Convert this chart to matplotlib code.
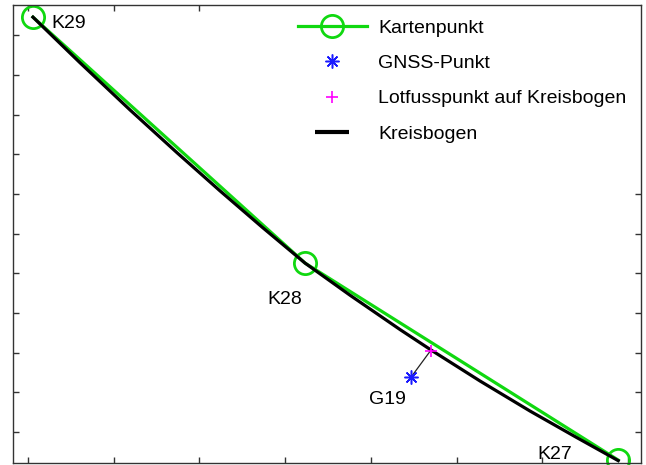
import numpy as np
import matplotlib
matplotlib.use("Agg")
import matplotlib.pyplot as plt
from matplotlib.lines import Line2D

plt.rcParams.update({
    "font.family": ["Liberation Sans", "DejaVu Sans"],
    "font.size": 14,
})

# ----------------------------------------
# Data (local map coordinates)
# ----------------------------------------
karten_names = ["K29", "K28", "K27"]
karten_x = [0.58, 32.32, 68.84]
karten_y = [52.27, 21.28, -3.53]

# circular arc through the map points
bogen_x = [0.58, 6.07, 11.90, 17.39, 22.40, 27.30, 32.32, 37.57, 43.41,
           47.02, 52.74, 58.58, 63.83, 68.84]
bogen_y = [52.27, 46.52, 40.58, 35.18, 30.38, 25.82, 21.28, 17.23, 12.90,
           10.33, 6.42, 2.63, -0.59, -3.60]

gnss_names = ["G19"]
gnss_x = [44.69]
gnss_y = [6.93]

lot_x = [46.95]
lot_y = [10.25]

# label offsets in points
karten_offsets = [(13.5, -4.5), (-27, -26.5), (-58, 4)]
gnss_offsets = [(-30, -16)]

# ----------------------------------------
# Colours
# ----------------------------------------
green = '#10d810'
blue = '#1a1aff'
magenta = '#ff00ff'

fig = plt.figure(figsize=(6.46, 4.65), dpi=100)
ax = fig.add_axes([13/646, 2/465, 628/646, 458/465])

ax.plot(karten_x, karten_y, color=green, lw=2.3, marker='o', ms=16,
        mfc='none', mec=green, mew=2.0, clip_on=False, zorder=2)
ax.plot(bogen_x, bogen_y, color='black', lw=2.3, zorder=3)

for gx, gy, lx, ly in zip(gnss_x, gnss_y, lot_x, lot_y):
    ax.plot([gx, lx], [gy, ly], color='#222222', lw=0.9, zorder=3)

ax.plot(gnss_x, gnss_y, ls='none', marker=(8, 2, 0), ms=10, mec=blue,
        mew=1.1, zorder=4)
ax.plot(lot_x, lot_y, ls='none', marker='+', ms=8, mec=magenta,
        mew=1.2, zorder=4)

for name, x, y, off in zip(karten_names, karten_x, karten_y, karten_offsets):
    ax.annotate(name, (x, y), xytext=off, textcoords='offset points',
                ha='left', va='center', fontsize=14)
for name, x, y, off in zip(gnss_names, gnss_x, gnss_y, gnss_offsets):
    ax.annotate(name, (x, y), xytext=off, textcoords='offset points',
                ha='left', va='center', fontsize=14)

ax.set_xlim(-1.75, 71.5)
ax.set_ylim(-3.9, 53.8)
ax.set_xticks(np.arange(0, 71, 10))
ax.set_yticks(np.arange(0, 51, 5))
ax.set_xticklabels([])
ax.set_yticklabels([])
ax.tick_params(direction='in', length=4, width=1, top=True, right=True,
               color='#333333')
for sp in ax.spines.values():
    sp.set_color('#333333')
    sp.set_linewidth(1.0)
    sp.set_zorder(10)

handles = [
    Line2D([], [], color=green, lw=2.3, marker='o', ms=16, mfc='none',
           mec=green, mew=2.0),
    Line2D([], [], ls='none', marker=(8, 2, 0), ms=10, mec=blue, mew=1.1),
    Line2D([], [], ls='none', marker='+', ms=8, mec=magenta, mew=1.2),
    Line2D([], [], ls='none', marker='_', ms=24, mec='black', mew=3),
]
labels = ["Kartenpunkt", "GNSS-Punkt", "Lotfusspunkt auf Kreisbogen", "Kreisbogen"]
leg = ax.legend(handles, labels, loc='upper right', bbox_to_anchor=(1, 1),
                borderaxespad=0, frameon=True, facecolor='white',
                edgecolor='none', framealpha=1, fancybox=False,
                handlelength=3.5, handletextpad=0.6, labelspacing=0.9,
                borderpad=0.75, fontsize=14)
leg.set_zorder(5)

fig.savefig("out.png", dpi=100)
